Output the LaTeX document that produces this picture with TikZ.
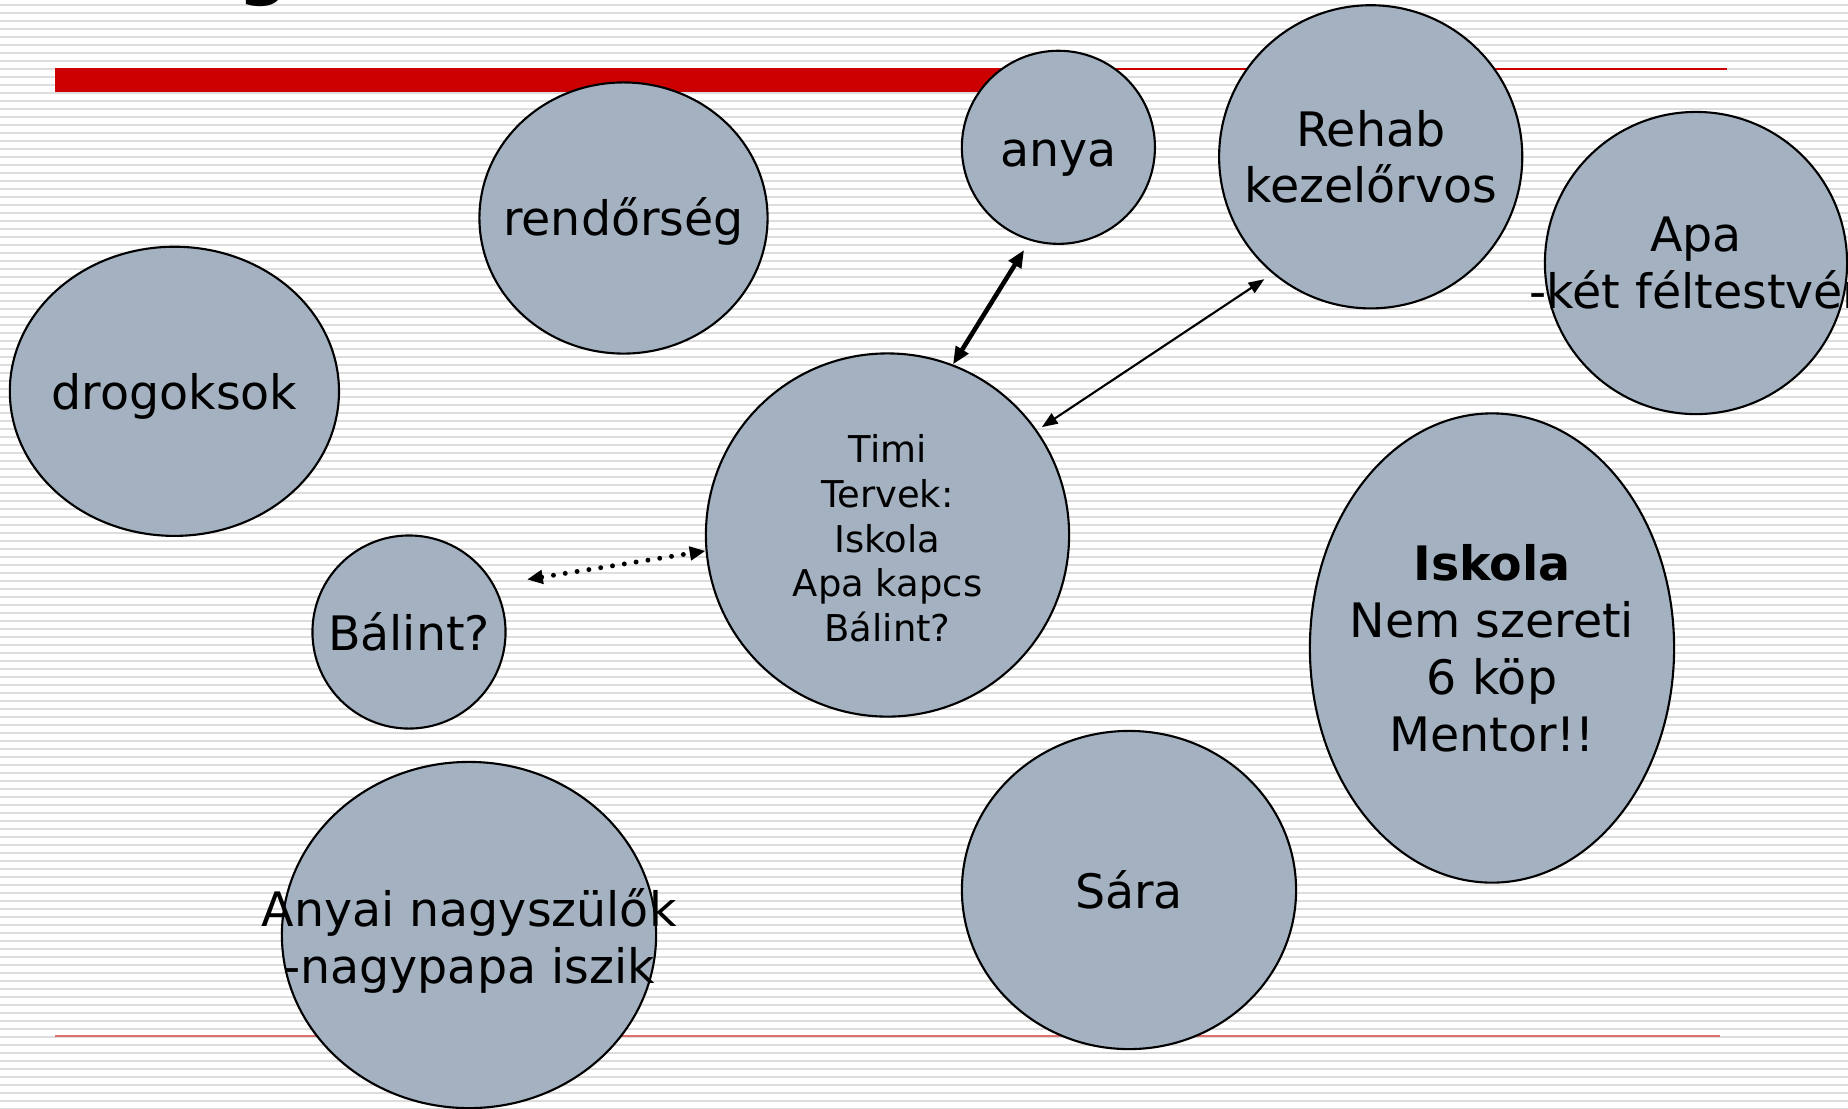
\documentclass[tikz,border=0pt]{standalone}
\usepackage{fontspec}
\setmainfont{DejaVu Sans}
\usetikzlibrary{shapes.geometric,arrows.meta}
\definecolor{blobgray}{RGB}{163,177,193}
\definecolor{stripegray}{RGB}{221,221,221}
\definecolor{barred}{RGB}{204,0,0}
\definecolor{lowred}{RGB}{222,112,112}
\tikzset{
  blob/.style={ellipse,draw=black,line width=0.6pt,fill=blobgray,inner sep=0pt},
  bigtxt/.style={align=center,font=\fontsize{13.5}{16.2}\selectfont},
  smalltxt/.style={align=center,yshift=-1pt,font=\fontsize{10.5}{12.7}\selectfont},
  boldlink/.style={{Triangle[length=5pt,width=4pt]}-{Triangle[length=5pt,width=4pt]},line width=1.3pt},
  thinlink/.style={{Triangle[length=4.5pt,width=3.4pt]}-{Triangle[length=4.5pt,width=3.4pt]},line width=0.6pt},
  dotlink/.style={{Triangle[length=4.5pt,width=3.8pt]}-{Triangle[length=4.5pt,width=3.8pt]},line width=1.4pt,line cap=round,dash pattern=on 0pt off 3.4pt}
}
\begin{document}
\begin{tikzpicture}[x=0.01cm,y=-0.01cm]
\useasboundingbox (0,0) rectangle (1848,1108);
\fill[white] (0,0) rectangle (1848,1108);
% striped background
\foreach \k in {0,...,138}
  \fill[stripegray] (0,{8*\k+3.5}) rectangle (1848,{8*\k+5.5});
% what is left of the title
\node[anchor=base,font=\fontsize{20}{24}\selectfont\bfseries] (title) at (264,-8.6) {g};
% red rules
\fill[barred] (55,68) rectangle (1030,92);
\draw[barred,line width=0.57pt] (1000,69) -- (1727,69);
\draw[lowred,line width=0.57pt] (55,1036) -- (1720,1036);
% the bubbles
\node[blob,minimum width=2.88cm,minimum height=2.71cm] (rendor) at (623.5,218) {};
\node[blob,minimum size=1.93cm] (anya) at (1058.4,147.3) {};
\node[blob,minimum size=3.03cm] (rehab) at (1370.7,156.8) {};
\node[blob,minimum size=3.02cm] (apa) at (1696,263) {};
\node[blob,minimum width=3.29cm,minimum height=2.89cm] (drog) at (174.4,391.3) {};
\node[blob,minimum size=3.63cm] (timi) at (887.5,535) {};
\node[blob,minimum size=1.93cm] (balint) at (409,632) {};
\node[blob,minimum width=3.64cm,minimum height=4.69cm] (iskola) at (1492,648) {};
\node[blob,minimum width=3.34cm,minimum height=3.18cm] (sara) at (1129,890) {};
\node[blob,minimum width=3.74cm,minimum height=3.46cm] (anyai) at (469,935) {};
% texts
\node[bigtxt,yshift=-1.1pt] (rendor-t) at (rendor) {rendőrség};
\node[bigtxt,yshift=-3pt] (anya-t) at (anya) {anya};
\node[bigtxt] (rehab-t) at (rehab) {Rehab\\kezelőrvos};
\node[bigtxt] (apa-t) at (apa) {Apa\\-két féltestvér};
\node[bigtxt,yshift=-1.4pt] (drog-t) at (drog) {drogoksok};
\node[smalltxt] (timi-t) at (timi) {Timi\\Tervek:\\Iskola\\Apa kapcs\\Bálint?};
\node[bigtxt] (balint-t) at (balint) {Bálint?};
\node[bigtxt] (iskola-t) at (iskola) {\textbf{Iskola}\\Nem szereti\\6 köp\\Mentor!!};
\node[bigtxt] (sara-t) at (sara) {Sára};
\node[bigtxt,yshift=-1.8pt] (anyai-t) at (anyai) {Anyai nagyszülők\\-nagypapa iszik};
% links
\draw[boldlink,shorten <=3.1pt] (anya.253) -- (timi.69.5);
\draw[thinlink,shorten <=2.8pt,shorten >=1.6pt] (rehab.230) -- (timi.35);
\draw[dotlink,shorten <=9.4pt] (balint.29) -- (timi.185);
\end{tikzpicture}
\end{document}
